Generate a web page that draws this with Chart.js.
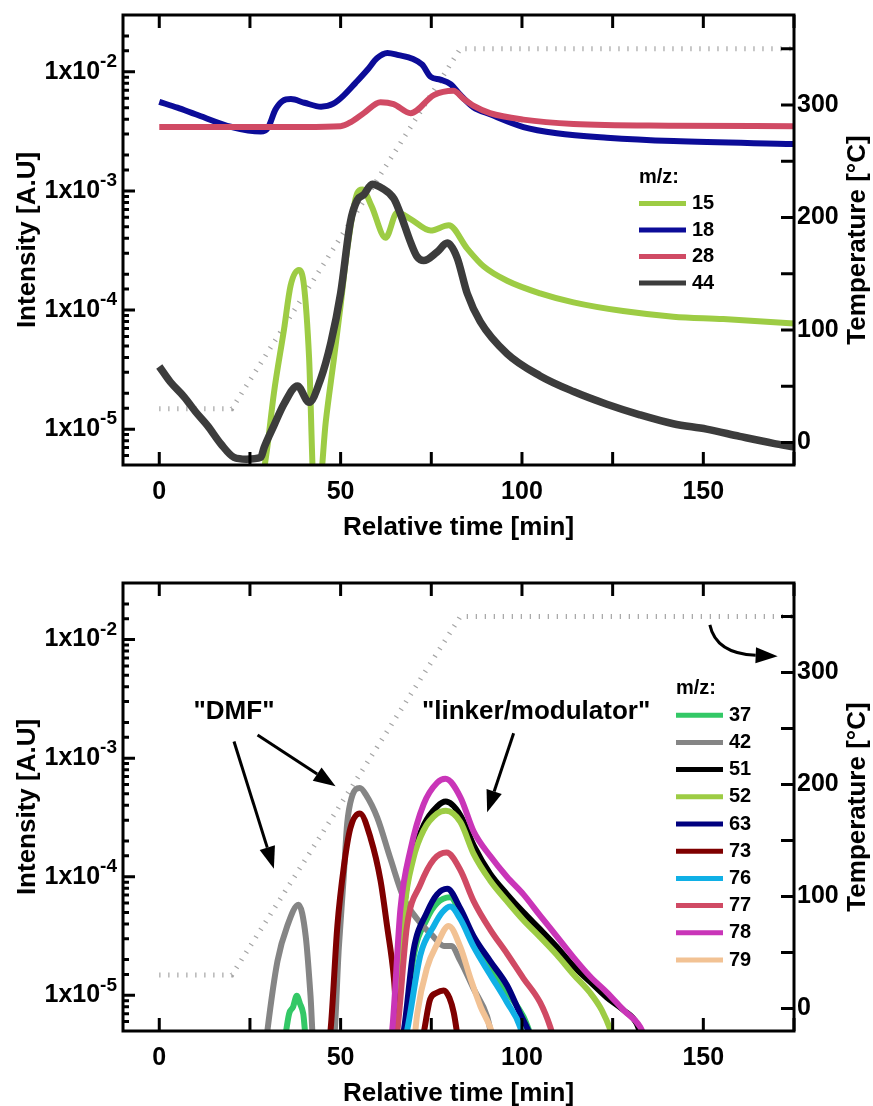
<!DOCTYPE html>
<html>
<head>
<meta charset="utf-8">
<script src="https://cdn.jsdelivr.net/npm/chart.js@4.4.1/dist/chart.umd.min.js"></script>
<style>
  html, body { margin: 0; padding: 0; background: #fff; }
  #wrap { position: relative; width: 873px; height: 1106px; }
  canvas { position: absolute; left: 0; }
  #top { top: 0; }
  #bottom { top: 553px; }
</style>
</head>
<body>
<div id="wrap">
  <canvas id="top" width="873" height="553"></canvas>
  <canvas id="bottom" width="873" height="553"></canvas>
</div>
<script>
"use strict";

// ---- axis ticks ----
const timeTicks = [0, 25, 50, 75, 100, 125, 150, 175];
const timeLabels = [0, 50, 100, 150];
const tempTicks = [0, 50, 100, 150, 200, 250, 300, 350];
const tempLabels = [0, 100, 200, 300];
const decadeLabels = [-5, -4, -3, -2];

// ---- heating program (both runs) ----
const tempTime = [0, 20, 83, 175];
const tempC = [30, 30, 350, 350];

// ---- top panel: m/z 15, 18, 28, 44 ----
const t15 = [28, 29.8, 31.6, 34.4, 36.2, 38.5, 39.9, 41.3, 42.7, 44.0, 45.9, 48.2, 50, 51.8, 54.6, 56, 58.5, 62.4, 65.6, 69.3, 74.8, 79.8, 84.9, 89.4, 95.9, 105, 114.2, 127.9, 141.7, 155.5, 175];
const mz15 = [3e-6, 7.1e-6, 2e-5, 6.9e-5, 1.6e-4, 2.17e-4, 1.6e-4, 4e-5, 3e-6, 3e-6, 1.15e-5, 4e-5, 1.1e-4, 3.2e-4, 9.6e-4, 1.03e-3, 7.5e-4, 4.05e-4, 6.6e-4, 5.8e-4, 4.65e-4, 5.15e-4, 3.28e-4, 2.33e-4, 1.76e-4, 1.38e-4, 1.16e-4, 9.8e-5, 8.8e-5, 8.4e-5, 7.7e-5];

const t18 = [0, 5, 10, 20, 28, 30, 32, 34, 36.3, 40, 44.6, 48, 51, 54, 57.4, 60, 62.9, 66, 70, 72.5, 74.8, 77.5, 80.3, 83, 86.6, 91.2, 100.4, 109.6, 123.4, 141.8, 175];
const mz18 = [5.6e-3, 5.0e-3, 4.4e-3, 3.44e-3, 3.15e-3, 3.4e-3, 4.8e-3, 5.7e-3, 5.9e-3, 5.5e-3, 5.1e-3, 5.4e-3, 6.4e-3, 8e-3, 1.04e-2, 1.3e-2, 1.44e-2, 1.38e-2, 1.28e-2, 1.15e-2, 9.1e-3, 8.6e-3, 7.9e-3, 6.4e-3, 5.05e-3, 4.4e-3, 3.44e-3, 3.05e-3, 2.8e-3, 2.62e-3, 2.48e-3];

const t28 = [0, 20, 40, 50, 52.8, 56.4, 61, 64.6, 69.3, 75.7, 81.1, 83.9, 86.7, 91.2, 100.4, 114.2, 141.8, 175];
const mz28 = [3.45e-3, 3.45e-3, 3.45e-3, 3.5e-3, 3.78e-3, 4.5e-3, 5.55e-3, 5.36e-3, 4.5e-3, 6.37e-3, 6.92e-3, 5.94e-3, 5.17e-3, 4.5e-3, 3.97e-3, 3.65e-3, 3.53e-3, 3.5e-3];

const t44 = [0, 3, 6.9, 10, 13.3, 17, 20.6, 24, 28, 28.9, 31.6, 34.4, 38.1, 41.3, 44.5, 47.3, 50, 52.7, 54.6, 56.4, 58.7, 61.5, 64.7, 66.5, 69.3, 71.1, 72.9, 76.6, 79.4, 82.1, 84.9, 88.5, 95.9, 105, 114.2, 123.4, 132.5, 141.7, 150.9, 160, 169.3, 175];
const mz44 = [3.36e-5, 2.5e-5, 1.86e-5, 1.4e-5, 1.07e-5, 7.5e-6, 5.8e-6, 5.6e-6, 5.8e-6, 7e-6, 1.07e-5, 1.63e-5, 2.3e-5, 1.68e-5, 2.64e-5, 5.3e-5, 1.38e-4, 5.5e-4, 8.4e-4, 9.3e-4, 1.14e-3, 1.05e-3, 8.6e-4, 6.4e-4, 3.7e-4, 2.8e-4, 2.6e-4, 3.07e-4, 3.65e-4, 2.76e-4, 1.38e-4, 8e-5, 4.3e-5, 2.8e-5, 2.07e-5, 1.62e-5, 1.32e-5, 1.11e-5, 1e-5, 8.7e-6, 7.6e-6, 7.1e-6];

// ---- bottom panel: m/z 37 ... 79 ----
const t37 = [34.5, 35.8, 36.9, 37.9, 38.8, 39.7, 40.6, 67.5, 70, 73.8, 76.6, 80.2, 83, 86.7, 91.2, 95.9, 100.4, 103.2];
const mz37 = [4e-6, 7e-6, 8e-6, 9.9e-6, 8.5e-6, 7e-6, 4e-6, 4e-6, 2e-5, 4.4e-5, 6e-5, 6.7e-5, 4.9e-5, 2.7e-5, 1.7e-5, 1.06e-5, 6.6e-6, 4e-6];

const t42 = [29, 29.8, 32.6, 35.3, 38.4, 40.4, 41.7, 42.5, 48, 49.5, 50.8, 51.8, 53, 55.3, 57, 60.1, 63.8, 67.4, 71.1, 75.7, 78.5, 80.5, 83, 86.7, 90.4, 92];
const mz42 = [3e-6, 5e-6, 1.95e-5, 3.85e-5, 5.8e-5, 3.1e-5, 9.9e-6, 4e-6, 4e-6, 2.5e-5, 9.4e-5, 2.8e-4, 4.6e-4, 5.6e-4, 4.9e-4, 3.15e-4, 1.4e-4, 6.6e-5, 4.4e-5, 3.1e-5, 2.6e-5, 2.6e-5, 1.95e-5, 1.13e-5, 6.6e-6, 4e-6];

const t51 = [64.5, 65.5, 67.5, 70, 73, 76.6, 79, 83, 86.7, 91.2, 95.9, 100.4, 105, 109.6, 114.2, 118.8, 123.4, 128, 131.6, 133.5];
const mz51 = [4e-6, 5e-6, 5.4e-5, 1.5e-4, 2.75e-4, 3.9e-4, 4.3e-4, 3.3e-4, 1.83e-4, 1.06e-4, 7.1e-5, 5e-5, 3.6e-5, 2.56e-5, 1.76e-5, 1.3e-5, 9.6e-6, 7.5e-6, 5.8e-6, 4e-6];

const t52 = [64.5, 65.5, 67.5, 70, 73, 76.6, 79, 83, 86.7, 91.2, 95.9, 100.4, 105, 109.6, 114.2, 118.8, 122, 124.5, 125.5];
const mz52 = [4e-6, 5e-6, 5e-5, 1.4e-4, 2.5e-4, 3.4e-4, 3.6e-4, 2.9e-4, 1.55e-4, 9.3e-5, 6.2e-5, 4.3e-5, 3.1e-5, 2.2e-5, 1.5e-5, 1.05e-5, 7.5e-6, 5e-6, 4e-6];

const t63 = [66.5, 67.4, 70.1, 73.8, 76.6, 79.4, 83, 86.7, 91.2, 95.9, 99.5, 101.8, 103];
const mz63 = [4e-6, 5e-6, 2.4e-5, 5e-5, 7.1e-5, 7.9e-5, 5.4e-5, 3.14e-5, 1.95e-5, 1.21e-5, 7e-6, 5e-6, 4e-6];

const t73 = [46.5, 47.2, 49.1, 50.9, 52.7, 55.3, 58.3, 61, 62.8, 64.7, 66, 72, 74.7, 76.5, 78.4, 80, 81.2, 82.5];
const mz73 = [4e-6, 5e-6, 3.85e-5, 1.22e-4, 2.58e-4, 3.42e-4, 2.1e-4, 9.3e-5, 3.85e-5, 1.39e-5, 4e-6, 4e-6, 9.3e-6, 1.05e-5, 1.1e-5, 9.5e-6, 7.1e-6, 4e-6];

const t76 = [67.5, 68.3, 72, 75.7, 78, 80.2, 83, 86.7, 91.2, 95.9, 99.5, 100.5];
const mz76 = [4e-6, 5e-6, 2.2e-5, 3.85e-5, 5e-5, 5.6e-5, 4.4e-5, 2.56e-5, 1.5e-5, 8.7e-6, 5.4e-6, 4e-6];

const t77 = [64.8, 65.6, 68.3, 72, 75.7, 79.2, 83, 86.7, 91.2, 95.9, 100.4, 105, 107.8, 109];
const mz77 = [4e-6, 5e-6, 3.85e-5, 8.6e-5, 1.4e-4, 1.6e-4, 1.14e-4, 6.2e-5, 3.6e-5, 2.24e-5, 1.39e-5, 8.7e-6, 5.4e-6, 4e-6];

const t78 = [63.5, 64.2, 66.5, 69.3, 72.9, 76.6, 78.9, 83, 86.7, 91.2, 95.9, 100.4, 105, 109.6, 114.2, 118.8, 123.4, 128, 132.6, 134.4];
const mz78 = [4e-6, 5e-6, 5.4e-5, 1.71e-4, 4.1e-4, 6.2e-4, 6.7e-4, 4.7e-4, 2.4e-4, 1.5e-4, 9.95e-5, 7.1e-5, 4.7e-5, 3.14e-5, 2.09e-5, 1.44e-5, 1.06e-5, 7.5e-6, 5.4e-6, 4e-6];

const t79 = [70.3, 71.1, 73.8, 76.6, 79.8, 83, 85.8, 88.6, 91.2, 92.5];
const mz79 = [4e-6, 6.9e-6, 1.7e-5, 2.7e-5, 3.85e-5, 2.56e-5, 1.39e-5, 8e-6, 5.4e-6, 4e-6];

// annotations of the bottom panel, in [time, intensity]
const noteTexts = [
  { text: '"DMF"', at: [20.6, 2.46e-3] },
  { text: '"linker/modulator"', at: [103.9, 2.45e-3] }
];
const noteArrows = [
  [[20.6, 1.38e-3], [31.6, 1.17e-4]],
  [[27.1, 1.57e-3], [48.6, 5.8e-4]],
  [[97.7, 1.62e-3], [90.4, 3.49e-4]]
];
const noteCurve = [[151.8, 1.33e-2], [153.5, 7.6e-3], [170.5, 7.25e-3]];

const FONT = '"Liberation Sans", Arial, sans-serif';

const zip = (xs, ys) => xs.map((x, i) => ({ x: x, y: ys[i] }));

const line = (label, xs, ys, color, i, width) => ({
  label: label,
  data: zip(xs, ys),
  borderColor: color,
  backgroundColor: color,
  borderWidth: width || 6,
  pointRadius: 0,
  cubicInterpolationMode: 'monotone',
  clip: 0,
  order: 50 - i,
  yAxisID: 'y'
});

const tempLine = () => ({
  label: 'T',
  data: zip(tempTime, tempC),
  borderColor: '#a4a4a4',
  borderWidth: 5,
  borderDash: [1.2, 7.8],
  pointRadius: 0,
  tension: 0,
  clip: 0,
  order: 100,
  yAxisID: 'yT',
  noLegend: true
});

// frame, inward ticks, tick labels and titles
const axesDeco = {
  id: 'axesDeco',
  afterDatasetsDraw(chart) {
    const { ctx, chartArea: a, scales } = chart;
    const sx = scales.x, sy = scales.y, st = scales.yT;
    ctx.save();
    ctx.strokeStyle = '#000';
    ctx.fillStyle = '#000';
    ctx.lineWidth = 3;
    ctx.beginPath();
    timeTicks.forEach(v => {
      const p = sx.getPixelForValue(v);
      ctx.moveTo(p, a.bottom); ctx.lineTo(p, a.bottom - 13);
      ctx.moveTo(p, a.top); ctx.lineTo(p, a.top + 13);
    });
    tempTicks.forEach(v => {
      const p = st.getPixelForValue(v);
      ctx.moveTo(a.right, p); ctx.lineTo(a.right - 13, p);
    });
    sy.ticks.forEach(t => {
      const p = sy.getPixelForValue(t.value);
      if (p < a.top + 1 || p > a.bottom - 1) return;
      const lg = Math.log10(t.value);
      const major = Math.abs(lg - Math.round(lg)) < 1e-6;
      ctx.moveTo(a.left, p); ctx.lineTo(a.left + (major ? 12 : 6), p);
    });
    ctx.stroke();
    ctx.strokeRect(a.left, a.top, a.right - a.left, a.bottom - a.top);

    ctx.textBaseline = 'middle';
    ctx.font = 'bold 25px ' + FONT;
    ctx.textAlign = 'center';
    timeLabels.forEach(v => ctx.fillText(String(v), sx.getPixelForValue(v), a.bottom + 27));
    ctx.textAlign = 'left';
    tempLabels.forEach(v => ctx.fillText(String(v), a.right + 3, st.getPixelForValue(v)));

    decadeLabels.forEach(e => {
      const p = sy.getPixelForValue(Math.pow(10, e));
      const sup = '-' + Math.abs(e);
      ctx.font = 'bold 19px ' + FONT;
      const w = ctx.measureText(sup).width;
      ctx.textAlign = 'left';
      ctx.fillText(sup, a.left - 6 - w, p - 10);
      ctx.font = 'bold 25px ' + FONT;
      ctx.textAlign = 'right';
      ctx.fillText('1x10', a.left - 6 - w, p);
    });

    ctx.font = 'bold 26px ' + FONT;
    ctx.textAlign = 'center';
    ctx.fillText('Relative time [min]', (a.left + a.right) / 2, a.bottom + 63);
    const cy = (a.top + a.bottom) / 2;
    [[28, 'Intensity [A.U]'], [858, 'Temperature [°C]']].forEach(([x, s]) => {
      ctx.save();
      ctx.translate(x, cy);
      ctx.rotate(-Math.PI / 2);
      ctx.fillText(s, 0, 0);
      ctx.restore();
    });
    ctx.restore();
  }
};

// legend drawn inside the plot
const inLegend = {
  id: 'inLegend',
  afterDatasetsDraw(chart, args, opts) {
    const { ctx, chartArea: a } = chart;
    const x0 = a.left + opts.dx, y0 = a.top + opts.dy;
    ctx.save();
    ctx.fillStyle = '#000';
    ctx.font = 'bold 20px ' + FONT;
    ctx.textBaseline = 'middle';
    ctx.textAlign = 'left';
    ctx.fillText('m/z:', x0, y0);
    chart.data.datasets.filter(d => !d.noLegend).forEach((d, i) => {
      const y = y0 + opts.step * (i + 1);
      ctx.strokeStyle = d.borderColor;
      ctx.lineWidth = 5;
      ctx.beginPath();
      ctx.moveTo(x0, y); ctx.lineTo(x0 + 47, y);
      ctx.stroke();
      ctx.fillText(d.label, x0 + 53, y);
    });
    ctx.restore();
  }
};

function arrowHead(ctx, x2, y2, ang, len, half) {
  const bx = x2 - len * Math.cos(ang), by = y2 - len * Math.sin(ang);
  ctx.beginPath();
  ctx.moveTo(x2, y2);
  ctx.lineTo(bx + half * Math.sin(ang), by - half * Math.cos(ang));
  ctx.lineTo(bx - half * Math.sin(ang), by + half * Math.cos(ang));
  ctx.closePath();
  ctx.fill();
  return [bx, by];
}

const notes = {
  id: 'notes',
  afterDatasetsDraw(chart, args, opts) {
    if (!opts.on) return;
    const { ctx, scales } = chart;
    const px = p => [scales.x.getPixelForValue(p[0]), scales.y.getPixelForValue(p[1])];
    ctx.save();
    ctx.fillStyle = '#000';
    ctx.strokeStyle = '#000';
    ctx.lineWidth = 3;
    ctx.font = 'bold 26px ' + FONT;
    ctx.textAlign = 'center';
    ctx.textBaseline = 'middle';
    noteTexts.forEach(n => {
      const [x, y] = px(n.at);
      ctx.fillText(n.text, x, y);
    });
    noteArrows.forEach(([s, e]) => {
      const [x1, y1] = px(s), [x2, y2] = px(e);
      const ang = Math.atan2(y2 - y1, x2 - x1);
      const [bx, by] = arrowHead(ctx, x2, y2, ang, 22, 8);
      ctx.beginPath();
      ctx.moveTo(x1, y1); ctx.lineTo(bx, by);
      ctx.stroke();
    });
    const [c1, c2, c3] = noteCurve.map(px);
    const ang = Math.atan2(c3[1] - c2[1], c3[0] - c2[0]);
    const [bx, by] = arrowHead(ctx, c3[0], c3[1], ang, 22, 8);
    ctx.beginPath();
    ctx.moveTo(c1[0], c1[1]);
    ctx.quadraticCurveTo(c2[0], c2[1], bx, by);
    ctx.stroke();
    ctx.restore();
  }
};

function makeChart(id, datasets, topPad, xAxisH, legendPos, withNotes) {
  return new Chart(document.getElementById(id), {
    type: 'line',
    data: { datasets: datasets },
    options: {
      responsive: false,
      animation: false,
      events: [],
      layout: { padding: { top: topPad, left: 0, right: 0, bottom: 0 } },
      plugins: {
        legend: { display: false },
        tooltip: { enabled: false },
        inLegend: legendPos,
        notes: { on: withNotes }
      },
      scales: {
        x: {
          type: 'linear', min: -10, max: 175,
          ticks: { display: false }, grid: { display: false }, border: { display: false },
          afterFit: s => { s.height = xAxisH; }
        },
        y: {
          type: 'logarithmic', position: 'left', min: 5e-6, max: 3e-2,
          ticks: { display: false, autoSkip: false }, grid: { display: false }, border: { display: false },
          afterFit: s => { s.width = 123; }
        },
        yT: {
          type: 'linear', position: 'right', min: -20, max: 380,
          ticks: { display: false }, grid: { display: false }, border: { display: false },
          afterFit: s => { s.width = 79; }
        }
      }
    },
    plugins: [axesDeco, inLegend, notes]
  });
}

makeChart('top', [
  tempLine(),
  line('15', t15, mz15, '#9dcc44', 0),
  line('18', t18, mz18, '#0c0c98', 1),
  line('28', t28, mz28, '#d04a64', 2),
  line('44', t44, mz44, '#3c3c3c', 3, 7.5)
], 15, 88, { dx: 516, dy: 162, step: 26.5 }, false);

makeChart('bottom', [
  tempLine(),
  line('37', t37, mz37, '#33c866', 0),
  line('42', t42, mz42, '#858585', 1),
  line('51', t51, mz51, '#000000', 2),
  line('52', t52, mz52, '#9dcc44', 3),
  line('63', t63, mz63, '#00007f', 4),
  line('73', t73, mz73, '#7f0000', 5),
  line('76', t76, mz76, '#10b0e6', 6),
  line('77', t77, mz77, '#d04a64', 7),
  line('78', t78, mz78, '#c935b8', 8),
  line('79', t79, mz79, '#f2c294', 9)
], 30, 75, { dx: 553, dy: 105, step: 27.2 }, true);
</script>
</body>
</html>
